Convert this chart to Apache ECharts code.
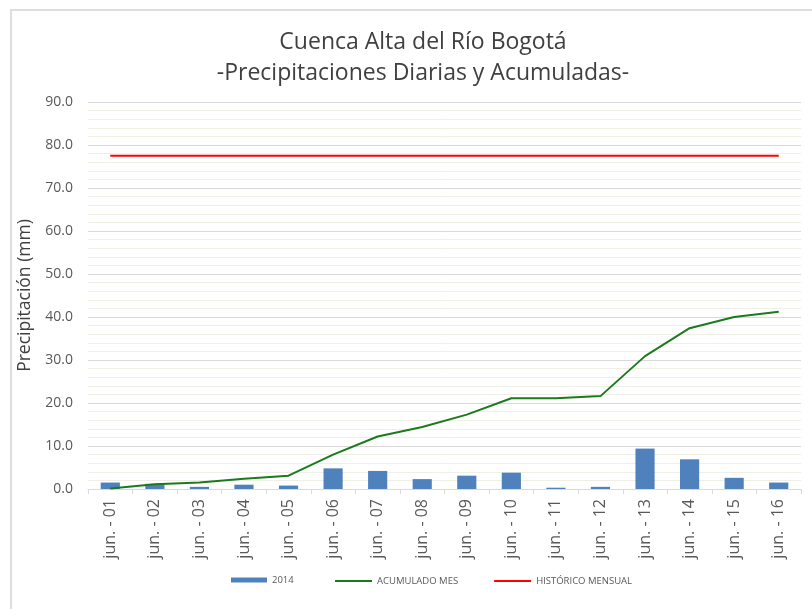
<!DOCTYPE html>
<html><head><meta charset="utf-8">
<script src="https://cdn.jsdelivr.net/npm/echarts@6/dist/echarts.min.js"></script>
<style>html,body{margin:0;padding:0;background:#fff;overflow:hidden}
#frame{position:absolute;left:10px;top:9px;width:820px;height:620px;border:2px solid #dedede;box-sizing:border-box}
#c{position:absolute;left:0;top:0;width:812px;height:609px}</style>
</head><body><div id="frame"></div><div id="c"></div>
<script>
var categories = ["jun. - 01","jun. - 02","jun. - 03","jun. - 04","jun. - 05","jun. - 06","jun. - 07","jun. - 08","jun. - 09","jun. - 10","jun. - 11","jun. - 12","jun. - 13","jun. - 14","jun. - 15","jun. - 16"];
var diaria2014 = [1.5,1.2,0.5,1.0,0.8,4.8,4.2,2.3,3.1,3.8,0.3,0.5,9.4,6.9,2.6,1.5];
var acumulado = [0.1,1.1,1.5,2.4,3.1,8.0,12.2,14.4,17.3,21.1,21.1,21.6,30.9,37.4,40.0,41.2];
var historico = [77.5,77.5,77.5,77.5,77.5,77.5,77.5,77.5,77.5,77.5,77.5,77.5,77.5,77.5,77.5,77.5];
var yTicks = {min:0, max:90, interval:10};

var FONT = '"Open Sans", "Noto Sans", sans-serif';
var chart = echarts.init(document.getElementById('c'));
chart.setOption({
  animation:false,
  textStyle:{fontFamily:FONT},
  title:{
    text:'Cuenca Alta del Río Bogotá\n-Precipitaciones Diarias y Acumuladas-',
    left:418, textAlign:'center', top:22,
    textStyle:{fontFamily:FONT, fontSize:23, fontWeight:'normal', color:'#404040', lineHeight:31}
  },
  legend:[{
    data:[{name:'2014', icon:'rect'}],
    left:226, top:570, itemWidth:36, itemHeight:5, itemGap:10, itemTextGap:4,
    textStyle:{fontSize:9.5, color:'#595959', fontFamily:FONT}
  },{
    data:[{name:'ACUMULADO MES', icon:'rect'},{name:'HISTÓRICO MENSUAL', icon:'rect'}],
    left:330, top:571, itemWidth:37, itemHeight:2, itemGap:36, itemTextGap:4,
    textStyle:{fontSize:9.5, color:'#595959', fontFamily:FONT}
  }],
  grid:{left:88, right:11, top:102, bottom:120, containLabel:false},
  xAxis:{
    type:'category', data:categories, boundaryGap:true,
    axisLine:{lineStyle:{color:'#d9d9d9', width:1}},
    axisTick:{show:true, length:5, lineStyle:{color:'#d9d9d9'}},
    axisLabel:{rotate:90, fontSize:16, color:'#595959', margin:10, fontFamily:FONT}
  },
  yAxis:{
    type:'value', min:yTicks.min, max:yTicks.max, interval:yTicks.interval,
    name:'Precipitación (mm)', nameLocation:'middle', nameGap:51, nameRotate:90,
    nameTextStyle:{fontSize:17.5, color:'#404040', fontFamily:FONT},
    axisLine:{show:false}, axisTick:{show:false},
    axisLabel:{fontSize:14, color:'#595959', margin:15, formatter:function(v){return v.toFixed(1);}, fontFamily:FONT},
    splitLine:{lineStyle:{color:'#d9d9d9', width:1}},
    minorTick:{show:false, splitNumber:5},
    minorSplitLine:{show:true, lineStyle:{color:'#efefe6', width:1}}
  },
  series:[{
    name:'2014', type:'bar', data:diaria2014, barWidth:'43%',
    itemStyle:{color:'#4f81bd'}, z:2
  },{
    name:'ACUMULADO MES', type:'line', data:acumulado, symbol:'none',
    lineStyle:{color:'#1b7a1b', width:2}, itemStyle:{color:'#1b7a1b'}, z:3
  },{
    name:'HISTÓRICO MENSUAL', type:'line', data:historico, symbol:'none',
    lineStyle:{color:'#ff0000', width:2}, itemStyle:{color:'#ff0000'}, z:3
  }]
});
</script></body></html>
